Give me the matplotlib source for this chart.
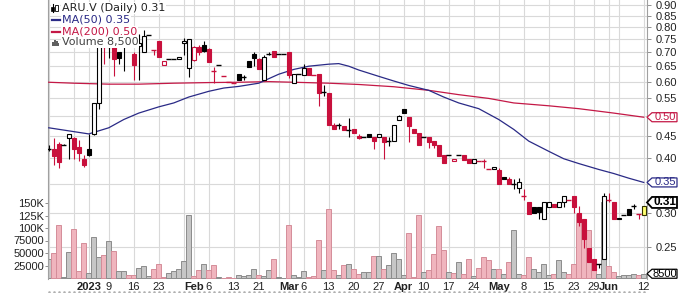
import numpy as np
import pandas as pd
import matplotlib
matplotlib.use("Agg")
import matplotlib.pyplot as plt
from matplotlib.patches import Rectangle, Polygon
from matplotlib.lines import Line2D
from matplotlib.ticker import FixedLocator, NullLocator, NullFormatter, FixedFormatter

# ---------------- data ----------------
holidays = ['2022-12-26', '2022-12-27', '2023-01-02', '2023-02-20', '2023-04-07', '2023-05-22']
dates = pd.bdate_range('2022-12-19', '2023-06-12')
dates = dates[~dates.isin(pd.to_datetime(holidays))]

opens = [0.42, 0.42, 0.432, 0.43, 0.446, 0.445, 0.425, 0.398, 0.419, 0.455,
         0.535, 0.74, 0.72, 0.729, 0.70, 0.74, 0.74, 0.695, 0.725, 0.70,
         0.766, 0.71, 0.743, 0.656, 0.676, 0.676, 0.676, 0.735, 0.645, 0.674,
         0.72, 0.73, 0.713, 0.634, 0.656, 0.617, 0.598, 0.597, 0.625, 0.615,
         0.67, 0.694, 0.676, 0.606, 0.694, 0.705, 0.694, 0.694, 0.70, 0.597,
         0.626, 0.623, 0.645, 0.62, 0.625, 0.567, 0.566, 0.478, 0.478, 0.475,
         0.465, 0.468, 0.45, 0.447, 0.456, 0.448, 0.448, 0.448, 0.438, 0.438,
         0.49, 0.518, 0.497, 0.468, 0.458, 0.448, 0.448, 0.438, 0.428, 0.406,
         0.406, 0.395, 0.406, 0.406, 0.399, 0.39, 0.395, 0.394, 0.378, 0.378,
         0.375, 0.363, 0.359, 0.35, 0.341, 0.328, 0.318, 0.309, 0.309, 0.29,
         0.309, 0.314, 0.309, 0.318, 0.32, 0.328, 0.30, 0.29, 0.249, 0.235,
         0.229, 0.235, 0.32, 0.318, 0.292, 0.297, 0.306, 0.31, 0.298, 0.297]
highs = [0.43, 0.445, 0.435, 0.432, 0.456, 0.447, 0.44, 0.408, 0.456, 0.535,
         0.76, 0.80, 0.78, 0.74, 0.70, 0.77, 0.79, 0.70, 0.77, 0.79,
         0.766, 0.71, 0.745, 0.668, 0.676, 0.676, 0.683, 0.755, 0.753, 0.725,
         0.73, 0.745, 0.715, 0.648, 0.656, 0.617, 0.598, 0.597, 0.625, 0.62,
         0.67, 0.70, 0.68, 0.69, 0.70, 0.705, 0.694, 0.694, 0.70, 0.626,
         0.626, 0.66, 0.645, 0.62, 0.625, 0.59, 0.566, 0.482, 0.482, 0.475,
         0.494, 0.468, 0.455, 0.447, 0.456, 0.448, 0.456, 0.448, 0.448, 0.478,
         0.504, 0.52, 0.497, 0.468, 0.458, 0.448, 0.448, 0.438, 0.428, 0.406,
         0.406, 0.398, 0.406, 0.406, 0.399, 0.398, 0.395, 0.398, 0.378, 0.382,
         0.38, 0.363, 0.362, 0.358, 0.36, 0.34, 0.318, 0.309, 0.309, 0.318,
         0.318, 0.314, 0.318, 0.328, 0.32, 0.328, 0.31, 0.29, 0.249, 0.235,
         0.229, 0.333, 0.333, 0.318, 0.292, 0.297, 0.306, 0.314, 0.298, 0.31]
lows = [0.415, 0.387, 0.379, 0.428, 0.398, 0.398, 0.395, 0.381, 0.404, 0.452,
        0.52, 0.66, 0.68, 0.617, 0.66, 0.634, 0.73, 0.606, 0.606, 0.70,
        0.766, 0.69, 0.684, 0.656, 0.676, 0.676, 0.676, 0.69, 0.615, 0.67,
        0.69, 0.70, 0.665, 0.597, 0.656, 0.617, 0.598, 0.597, 0.606, 0.606,
        0.648, 0.65, 0.64, 0.606, 0.69, 0.683, 0.694, 0.694, 0.613, 0.597,
        0.626, 0.623, 0.623, 0.62, 0.527, 0.555, 0.478, 0.468, 0.466, 0.465,
        0.448, 0.458, 0.442, 0.447, 0.448, 0.419, 0.448, 0.398, 0.426, 0.438,
        0.49, 0.507, 0.437, 0.458, 0.428, 0.448, 0.423, 0.423, 0.404, 0.39,
        0.406, 0.395, 0.406, 0.397, 0.39, 0.39, 0.395, 0.38, 0.378, 0.378,
        0.35, 0.358, 0.349, 0.34, 0.332, 0.32, 0.298, 0.30, 0.29, 0.29,
        0.309, 0.309, 0.309, 0.309, 0.32, 0.30, 0.28, 0.249, 0.231, 0.221,
        0.224, 0.235, 0.318, 0.29, 0.29, 0.297, 0.297, 0.306, 0.29, 0.297]
closes = [0.42, 0.405, 0.393, 0.43, 0.455, 0.419, 0.412, 0.387, 0.408, 0.535,
          0.74, 0.72, 0.73, 0.676, 0.68, 0.745, 0.74, 0.656, 0.737, 0.765,
          0.766, 0.71, 0.684, 0.668, 0.676, 0.676, 0.683, 0.745, 0.75, 0.72,
          0.70, 0.705, 0.665, 0.634, 0.656, 0.617, 0.598, 0.597, 0.606, 0.615,
          0.648, 0.68, 0.64, 0.683, 0.694, 0.683, 0.694, 0.694, 0.62, 0.626,
          0.626, 0.645, 0.623, 0.62, 0.566, 0.567, 0.478, 0.468, 0.478, 0.465,
          0.465, 0.458, 0.445, 0.447, 0.448, 0.438, 0.456, 0.436, 0.438, 0.478,
          0.50, 0.507, 0.475, 0.458, 0.43, 0.448, 0.436, 0.43, 0.404, 0.39,
          0.406, 0.398, 0.406, 0.397, 0.39, 0.398, 0.395, 0.394, 0.378, 0.382,
          0.35, 0.358, 0.349, 0.35, 0.352, 0.328, 0.298, 0.30, 0.301, 0.318,
          0.318, 0.309, 0.318, 0.328, 0.32, 0.309, 0.285, 0.261, 0.231, 0.221,
          0.229, 0.328, 0.32, 0.29, 0.29, 0.297, 0.297, 0.31, 0.298, 0.31]
volume_k = [38, 51, 106, 2, 52, 98, 14, 70, 10, 82,
            42, 46, 74, 54, 15, 15, 6, 6, 20, 24,
            5, 18, 28, 3, 11, 15, 18, 35, 126, 5,
            16, 29, 17, 27, 2, 1, 2, 1, 6, 4,
            6, 19, 6, 4, 17, 38, 2, 1, 107, 7,
            3, 15, 3, 4, 77, 17, 139, 17, 7, 27,
            29, 19, 9, 13, 12, 44, 44, 19, 26, 51,
            39, 6, 91, 2, 126, 13, 16, 49, 104, 56,
            12, 10, 33, 8, 39, 4, 21, 43, 37, 19,
            19, 9, 33, 96, 9, 6, 43, 19, 12, 28,
            6, 9, 36, 12, 9, 29, 129, 116, 97, 26,
            9, 153, 24, 12, 4, 6, 6, 8, 6, 8.5]

ma50_pos = [0, 8, 12, 15, 18, 22, 25, 28, 32, 35, 38, 42, 46, 49, 52, 56, 58, 60, 62, 66,
            69, 72, 76, 79, 82, 86, 90, 93, 96, 100, 103, 106, 110, 113, 116, 119]
ma50_val = [0.47, 0.455, 0.47, 0.491, 0.508, 0.525, 0.536, 0.553, 0.57, 0.58, 0.585, 0.595,
            0.624, 0.64, 0.651, 0.658, 0.66, 0.651, 0.638, 0.617, 0.602, 0.588, 0.573, 0.553,
            0.536, 0.52, 0.491, 0.466, 0.438, 0.415, 0.399, 0.389, 0.377, 0.369, 0.36, 0.352]
ma200_pos = [0, 5, 12, 18, 25, 32, 38, 44, 49, 56, 62, 69, 76, 82, 88, 93, 100, 106, 113, 119]
ma200_val = [0.598, 0.595, 0.592, 0.592, 0.595, 0.597, 0.598, 0.60, 0.598, 0.595, 0.591, 0.584,
             0.573, 0.56, 0.549, 0.536, 0.528, 0.52, 0.508, 0.497]

tick_dates = ['2023-01-03', '2023-01-09', '2023-01-16', '2023-01-23', '2023-02-01', '2023-02-06',
              '2023-02-13', '2023-02-21', '2023-03-01', '2023-03-06', '2023-03-13', '2023-03-20',
              '2023-03-27', '2023-04-03', '2023-04-10', '2023-04-17', '2023-04-24', '2023-05-01',
              '2023-05-08', '2023-05-15', '2023-05-23', '2023-05-29', '2023-06-01', '2023-06-12']
tick_labels = ['2023', '9', '16', '23', 'Feb', '6', '13', '21', 'Mar', '6', '13', '20', '27',
               'Apr', '10', '17', '24', 'May', '8', '15', '23', '29', 'Jun', '12']
bold_labels = ['2023', 'Feb', 'Mar', 'Apr', 'May', 'Jun']
extra_grid_dates = ['2022-12-19', '2022-12-28', '2023-01-30', '2023-02-27', '2023-06-05']
price_ticks = [0.25, 0.30, 0.35, 0.40, 0.45, 0.50, 0.55, 0.60, 0.65, 0.70, 0.75, 0.80, 0.85, 0.90]
vol_ticks = [25000, 50000, 75000, 100000, 125000, 150000]
vol_tick_labels = ['25000', '50000', '75000', '100K', '125K', '150K']

symbol = 'ARU.V'

# ---------------- styling ----------------
RED = '#c8103c'
NAVY = '#2a2a86'
MA200C = '#c41846'
GRID = '#d9d9d9'
plt.rcParams['font.family'] = ['Liberation Sans', 'DejaVu Sans']

W, H = 700, 293
fig = plt.figure(figsize=(W / 100, H / 100), dpi=100)
L, R, B, T = 48, 647, 14, 293
ax_v = fig.add_axes([L / W, B / H, (R - L) / W, (T - B) / H])
ax_p = ax_v.twinx()

o = np.array(opens); h = np.array(highs); lo = np.array(lows); c = np.array(closes)
vol = np.array(volume_k) * 1000.0
n = len(c)
x = np.arange(n)
prev = np.r_[o[0], c[:-1]]
up = c >= prev

ax_v.set_xlim(-0.15, n - 0.35)
ax_v.set_ylim(-2000, 556000)
ax_p.set_yscale('log')
ax_p.set_ylim(0.2112, 0.924)

date_idx = {d.strftime('%Y-%m-%d'): i for i, d in enumerate(dates)}

# grid
for d in tick_dates + extra_grid_dates:
    ax_v.axvline(date_idx[d], color=GRID, lw=0.8, zorder=0)
lp0, lp1 = np.log(0.2112), np.log(0.924)
for p in price_ticks:
    f = (np.log(p) - lp0) / (lp1 - lp0)
    ax_v.plot([0, 1], [f, f], transform=ax_v.transAxes, color=GRID, lw=0.8, zorder=0)

# volume
vcol = np.where(up, '#c6c6c6', '#f0b5be')
vedge = np.where(up, '#8c8c8c', '#d48d99')
ax_v.bar(x, vol, width=1.0, color=vcol, edgecolor=vedge, linewidth=0.7, zorder=2)

# moving averages
ax_p.plot(ma200_pos, ma200_val, color=MA200C, lw=0.9, zorder=3)
ax_p.plot(ma50_pos, ma50_val, color=NAVY, lw=0.9, zorder=3)

# candles
bw = 0.74
for i in range(n):
    ec = 'black' if up[i] else RED
    last = (i == n - 1)
    ax_p.vlines(x[i], lo[i], h[i], color=ec, lw=0.8, zorder=4)
    if o[i] == c[i]:
        ax_p.hlines(c[i], x[i] - 0.5, x[i] + 0.5, color=ec, lw=1.0, zorder=5)
    else:
        if last:
            fc, ecc = '#ffff70', '#333300'
        else:
            fc = 'white' if c[i] > o[i] else ec
            ecc = ec
        ax_p.add_patch(Rectangle((x[i] - bw / 2, min(o[i], c[i])), bw, abs(c[i] - o[i]),
                                 facecolor=fc, edgecolor=ecc, lw=0.8, zorder=5))

# axes cosmetics
for a in (ax_v, ax_p):
    for s in ('top', 'bottom'):
        a.spines[s].set_visible(False)
ax_v.spines['left'].set_color('#a0a0a0')
ax_v.spines['right'].set_visible(False)
ax_p.spines['left'].set_visible(False)
ax_p.spines['right'].set_color('#a0a0a0')

# labels hidden under the value tags are left blank
covered = {round(ma50_val[-1], 2), round(ma200_val[-1], 2)}
ax_p.yaxis.set_major_locator(FixedLocator(price_ticks))
ax_p.yaxis.set_major_formatter(FixedFormatter(
    ['' if round(p, 2) in covered else '%.2f' % p for p in price_ticks]))
ax_p.yaxis.set_minor_locator(NullLocator())
ax_p.yaxis.set_minor_formatter(NullFormatter())
ax_p.tick_params(axis='y', length=3, width=0.7, color='#909090', pad=3, labelsize=8,
                 labelcolor='#222222')

ax_v.set_yticks(vol_ticks)
ax_v.set_yticklabels(vol_tick_labels)
ax_v.tick_params(axis='y', length=2, width=0.7, color='#909090', pad=1, labelsize=8,
                 labelcolor='#222222')

ax_v.set_xticks([date_idx[d] for d in tick_dates])
ax_v.set_xticklabels(tick_labels)
ax_v.tick_params(axis='x', length=0, pad=2, labelsize=8, labelcolor='#222222')
for t in ax_v.get_xticklabels():
    if t.get_text() in bold_labels:
        t.set_fontweight('bold')
ax_p.tick_params(axis='x', length=0, labelbottom=False)

# dotted day marks under the labels
ax_v.plot(x, np.full(n, -0.045), transform=ax_v.get_xaxis_transform(), ls='none',
          marker='s', ms=0.8, color='#b0b0b0', clip_on=False)

# value tags on the right
def tag(ax, val, text, ec, tc, bold=False, dy=0.0):
    y = ax.transData.transform((0, val))[1] + dy
    hh = 5.5 if bold else 4.5
    xs = np.array([647, 652, 677, 677, 652]) / W
    ys = np.array([y, y + hh, y + hh, y - hh, y - hh]) / H
    fig.add_artist(Polygon(np.c_[xs, ys], closed=True, transform=fig.transFigure,
                           facecolor='white', edgecolor=ec, lw=1.3 if bold else 0.9, zorder=20))
    fig.text(665 / W, y / H, text, ha='center', va='center', color=tc,
             fontsize=8.5 if bold else 8, fontweight='bold' if bold else 'normal', zorder=21)

fig.canvas.draw()
tag(ax_p, ma200_val[-1], '%.2f' % ma200_val[-1], MA200C, MA200C)
tag(ax_p, ma50_val[-1], '%.2f' % ma50_val[-1], NAVY, NAVY)
tag(ax_p, c[-1], '%.2f' % c[-1], 'black', 'black', bold=True, dy=4)
tag(ax_v, vol[-1], '%d' % vol[-1], 'black', 'black')

# legend (top-left)
lf = dict(fontsize=8, family=['DejaVu Sans'], va='center', ha='left', zorder=30,
          bbox=dict(facecolor='white', edgecolor='none', pad=0.6))
rows_y = [285, 273, 261.5, 250.5]
fig.text(62 / W, rows_y[0] / H, '%s (Daily) %.2f' % (symbol, c[-1]), color='#222222', **lf)
fig.text(62 / W, rows_y[1] / H, 'MA(50) %.2f' % ma50_val[-1], color=NAVY, **lf)
fig.text(62 / W, rows_y[2] / H, 'MA(200) %.2f' % ma200_val[-1], color=MA200C, **lf)
fig.text(62 / W, rows_y[3] / H, 'Volume {:,.0f}'.format(vol[-1]), color='#444444', **lf)
# legend icons
fig.add_artist(Rectangle((51 / W, 282 / H), 8 / W, 7 / H, transform=fig.transFigure,
                         facecolor='white', edgecolor='white', zorder=29))
fig.add_artist(Line2D([52.5 / W, 52.5 / W], [281 / H, 289 / H], color='black', lw=0.8, zorder=31))
fig.add_artist(Rectangle((51.5 / W, 282.5 / H), 2 / W, 4 / H, transform=fig.transFigure,
                         facecolor='black', edgecolor='black', lw=0.5, zorder=31))
fig.add_artist(Rectangle((55.5 / W, 282.5 / H), 2.5 / W, 5 / H, transform=fig.transFigure,
                         facecolor='white', edgecolor='black', lw=0.6, zorder=31))
fig.add_artist(Line2D([52 / W, 60 / W], [rows_y[1] / H] * 2, color=NAVY, lw=1.6, zorder=31))
fig.add_artist(Line2D([52 / W, 60 / W], [rows_y[2] / H] * 2, color=MA200C, lw=1.6, zorder=31))
for k, hgt in enumerate([4, 6, 5, 3]):
    fig.add_artist(Rectangle(((52 + 2 * k) / W, 247 / H), 1.5 / W, hgt / H,
                             transform=fig.transFigure, facecolor='#606060',
                             edgecolor='none', zorder=31))

fig.savefig('out.png', dpi=100)
